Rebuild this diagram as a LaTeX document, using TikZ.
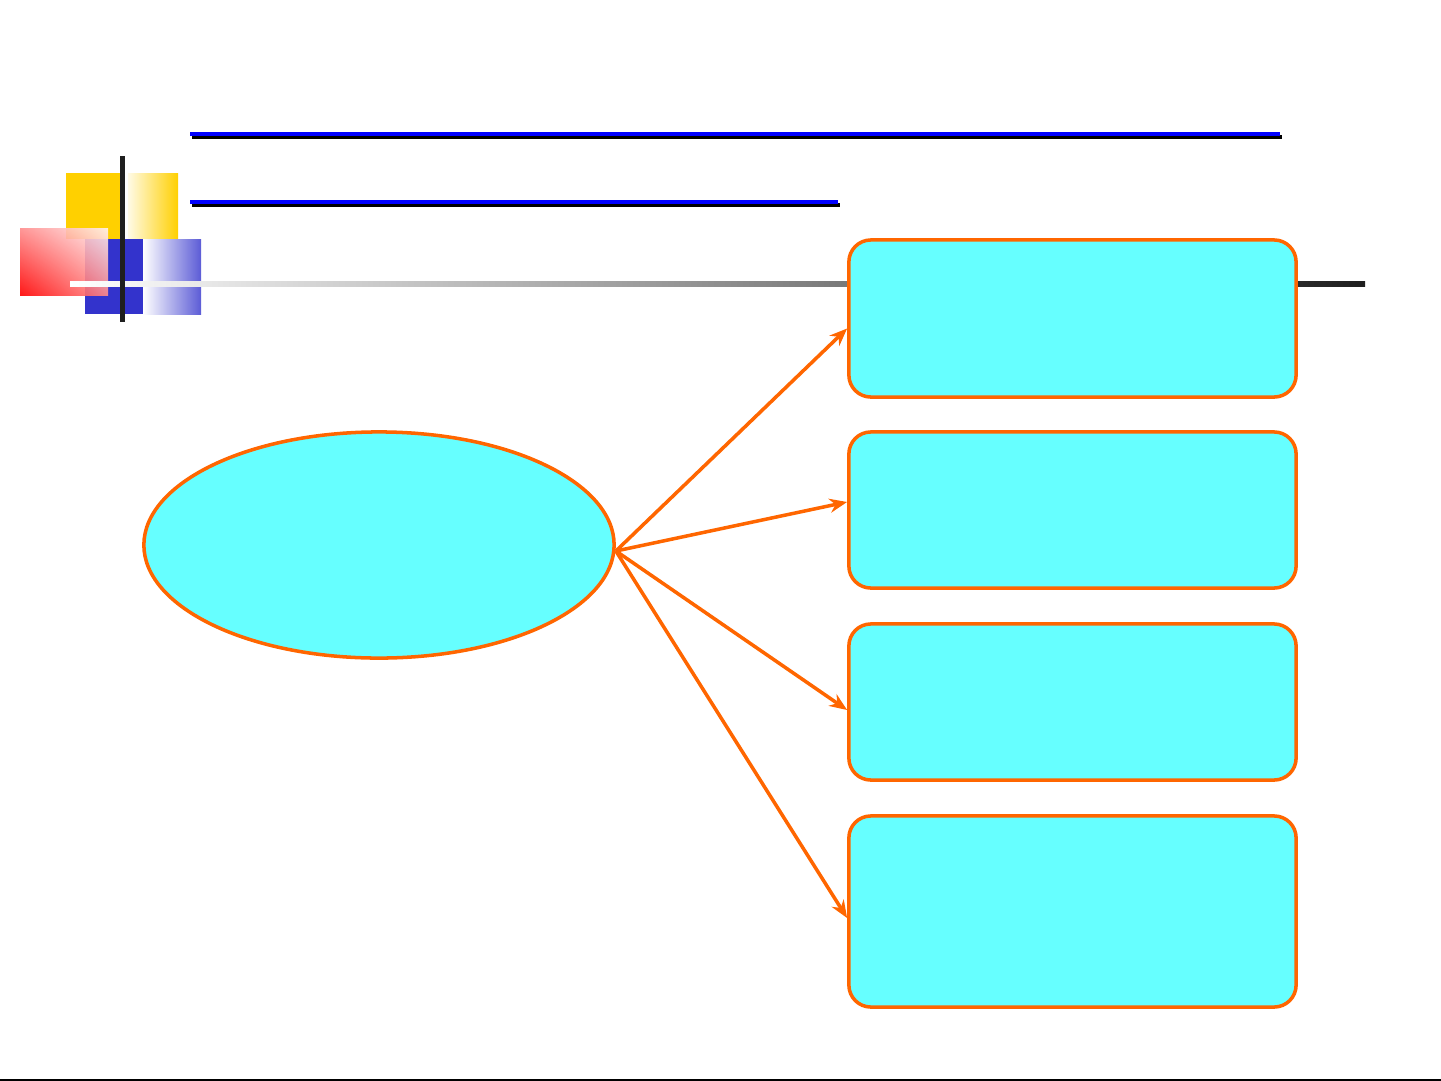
\documentclass[tikz,border=0pt]{standalone}
\usetikzlibrary{shapes.geometric,arrows.meta,shadings}
\definecolor{boxfill}{HTML}{66FFFF}
\definecolor{boxline}{HTML}{FF6600}
\definecolor{decogold}{HTML}{FFD000}
\definecolor{decoblue}{HTML}{3333CC}
\begin{document}
\begin{tikzpicture}[
	x=0.01cm, y=-0.01cm,
	>={Stealth[length=5pt,width=4pt]},
	topic/.style={
		draw=boxline, fill=boxfill, line width=1pt,
		ellipse, minimum width=4.7cm, minimum height=2.26cm, inner sep=0pt
	},
	item box/.style={
		draw=boxline, fill=boxfill, line width=1pt,
		rounded corners=0.22cm, minimum width=4.47cm, inner sep=0pt
	},
	link/.style={->, draw=boxline, line width=1pt},
	rule line/.style={line width=1.1pt}
	]
	\useasboundingbox (0,0) rectangle (1441,1081);
	
	% corner decoration
	\fill[decogold] (66,173) rectangle (124,239);
	\shade[left color=decogold!10, right color=decogold] (128,173) rectangle (178,239);
	\fill[decoblue] (85,239) rectangle (143,314);
	\shade[left color=white, right color=decoblue!80] (143,239) rectangle (201,314);
	\shade[lower left=red, upper right=red!5, upper left=red!45, lower right=red!45, opacity=0.9]
		(20,228) rectangle (108,295);
	\shade[left color=white, right color=black!88] (70,281) rectangle (1365,286);
	\fill[black!88] (120,156) rectangle (125,322);
	
	% title rules
	\draw[rule line, black] (192,137) -- (1282,137);
	\draw[rule line, blue] (190,134) -- (1280,134);
	\draw[rule line, black] (192,205) -- (840,205);
	\draw[rule line, blue] (190,202) -- (838,202);
	
	\node[topic] (src) at (379,545) {};
	
	\node[item box, minimum height=1.57cm] (b1) at (1072.5,318.5) {};
	\node[item box, minimum height=1.56cm] (b2) at (1072.5,510) {};
	\node[item box, minimum height=1.56cm] (b3) at (1072.5,702) {};
	\node[item box, minimum height=1.91cm] (b4) at (1072.5,911.5) {};
	
	\coordinate (fan) at ([yshift=-0.06cm]src.east);
	\draw[link] (fan) -- ([yshift=-0.1cm]b1.west);
	\draw[link] (fan) -- ([yshift=0.08cm]b2.west);
	\draw[link] (fan) -- ([yshift=-0.08cm]b3.west);
	\draw[link] (fan) -- ([yshift=-0.065cm]b4.west);
	
	\draw[line width=0.6pt] (0,1080) -- (1441,1080);
	
\end{tikzpicture}
\end{document}
